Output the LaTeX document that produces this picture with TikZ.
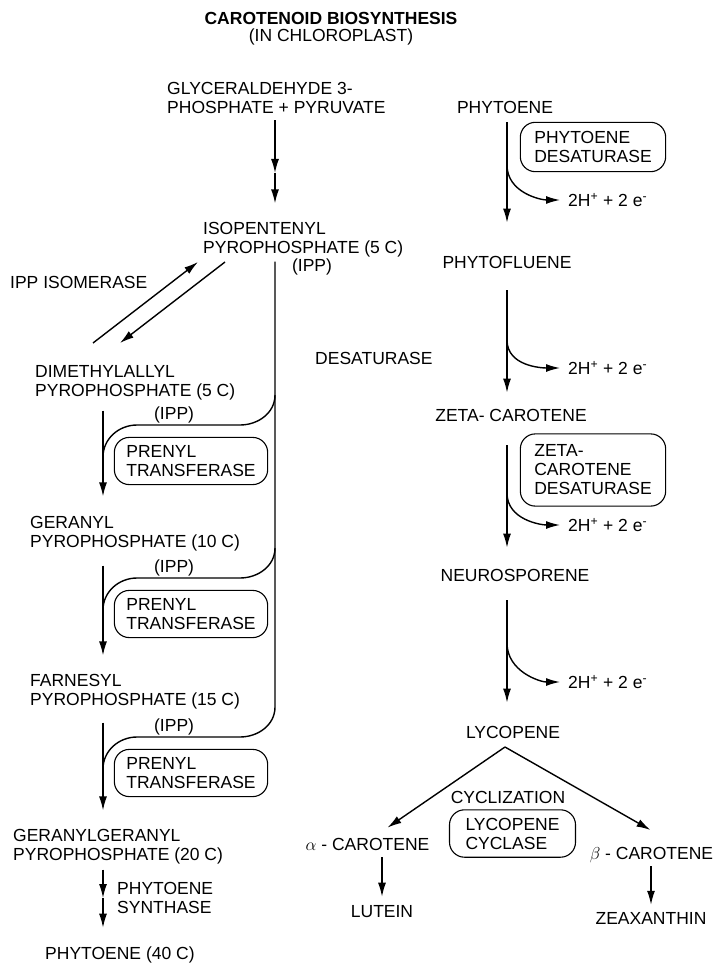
\documentclass[tikz,border=0pt]{standalone}
\usepackage{fontspec}
\setmainfont{Liberation Sans}
\usetikzlibrary{arrows.meta,positioning}
\newcommand\protons{2H\textsuperscript{+} + 2 e\textsuperscript{-}}

\begin{document}
\begin{tikzpicture}[x=1pt,y=1pt,
      lbl/.style={inner sep=0pt,align=left,font=\fontsize{17.5}{19}\selectfont},
      enz/.style={lbl,draw,line width=1.1pt,rounded corners=15pt,
                  inner xsep=12pt,inner ysep=8pt},
      flow/.style={line width=1.4pt},
      arr/.style={flow,-{Latex[length=14pt,width=8pt]}}]
    \useasboundingbox (0,0) rectangle (717,-965);

    % title
    \node[lbl] (title) at (331,-18) {\bfseries CAROTENOID BIOSYNTHESIS};
    \node[lbl,below=4pt of title] (chloro) {(IN CHLOROPLAST)};

    % prenyl chain
    \node[lbl,anchor=west] (g3p) at (167,-97.5) {GLYCERALDEHYDE 3-\\PHOSPHATE + PYRUVATE};
    \node[lbl,anchor=west] (ipp) at (203,-240) {ISOPENTENYL\\PYROPHOSPHATE (5 C)};
    \node[lbl] (ipptag) at (312,-267) {(IPP)};
    \node[lbl,anchor=west] (isom) at (10,-282) {IPP ISOMERASE};
    \node[lbl,anchor=west] (dmapp) at (35,-383) {DIMETHYLALLYL\\PYROPHOSPHATE (5 C)};
    \node[lbl,anchor=west] (gpp) at (30,-534) {GERANYL\\PYROPHOSPHATE (10 C)};
    \node[lbl,anchor=west] (fpp) at (30,-692) {FARNESYL\\PYROPHOSPHATE (15 C)};
    \node[lbl,anchor=west] (ggpp) at (13,-847) {GERANYLGERANYL\\PYROPHOSPHATE (20 C)};
    \node[lbl,anchor=west] (psyn) at (117,-898) {PHYTOENE\\SYNTHASE};
    \node[lbl,anchor=west] (phy40) at (45,-955) {PHYTOENE (40 C)};
    \node[enz] (pt1) at (191,-461) {PRENYL\\TRANSFERASE};
    \node[enz] (pt2) at (191,-614) {PRENYL\\TRANSFERASE};
    \node[enz] (pt3) at (191,-773) {PRENYL\\TRANSFERASE};

    % desaturation chain
    \node[lbl] (phyt) at (505,-107) {PHYTOENE};
    \node[enz,inner xsep=14pt,inner ysep=9pt] (pds) at (593,-147) {PHYTOENE\\DESATURASE};
    \node[lbl] (pfl) at (507,-262) {PHYTOFLUENE};
    \node[lbl,anchor=west] (desat) at (315,-358) {DESATURASE};
    \node[lbl] (zcar) at (511,-415) {ZETA- CAROTENE};
    \node[enz,inner xsep=14pt,inner ysep=11pt] (zds) at (593,-470) {ZETA-\\CAROTENE\\DESATURASE};
    \node[lbl] (neur) at (515,-575) {NEUROSPORENE};
    \node[lbl] (lyco) at (513,-732) {LYCOPENE};
    \node[lbl] (cycl) at (508,-797) {CYCLIZATION};
    \node[enz,inner xsep=16pt] (lcy) at (512.5,-833.5) {LYCOPENE\\CYCLASE};
    \node[lbl] (acar) at (367.5,-844) {$\alpha$ - CAROTENE};
    \node[lbl] (bcar) at (651.5,-855) {$\beta$ - CAROTENE};
    \node[lbl] (lut) at (382,-912) {LUTEIN};
    \node[lbl] (zea) at (651,-918) {ZEAXANTHIN};
    \node[lbl,anchor=west] (h1) at (568,-200) {\protons};
    \node[lbl,anchor=west] (h2) at (568,-368) {\protons};
    \node[lbl,anchor=west] (h3) at (568,-525) {\protons};
    \node[lbl,anchor=west] (h4) at (568,-682) {\protons};

    \coordinate (tx) at (275,0);
    \coordinate (lx) at (103,0);
    \coordinate (vx) at (507,0);
    \coordinate (gmid) at (275,-173);
    \coordinate (pmid) at (103,-898);
    \coordinate (isoA) at (93,-343);
    \coordinate (isoB) at (198,-262);
    \coordinate (isoC) at (225,-262);
    \coordinate (isoD) at (120,-343);
    \coordinate (j1) at (275,-395);
    \coordinate (j2) at (275,-548);
    \coordinate (j3) at (275,-707);
    \coordinate (m1) at (103,-457);
    \coordinate (m2) at (103,-610);
    \coordinate (m3) at (103,-769);
    \coordinate (b1) at (507,-165);
    \coordinate (b2) at (507,-340);
    \coordinate (b3) at (507,-493);
    \coordinate (b4) at (507,-643);
    \coordinate (apex) at (505,-747);

    % left side
    \draw[arr,shorten <=7pt] (g3p.south -| tx) -- (gmid);
    \draw[arr,shorten >=19pt] (gmid) -- (ipp.north -| tx);
    \draw[arr] (isoA) -- (isoB);
    \draw[arr] (isoC) -- (isoD);
    \draw[flow,shorten <=4pt] (ipp.south -| tx) -- (j3) to[out=-90,in=0] ++(-35,-30)
      -- node[lbl,pos=0.64,above=1pt] (ipp3) {(IPP)} ++(-103,0) to[out=180,in=90] (m3);
    \draw[flow] (j1) to[out=-90,in=0] ++(-35,-30)
      -- node[lbl,pos=0.64,above=1pt] (ipp1) {(IPP)} ++(-103,0) to[out=180,in=90] (m1);
    \draw[flow] (j2) to[out=-90,in=0] ++(-35,-30)
      -- node[lbl,pos=0.64,above=1pt] (ipp2) {(IPP)} ++(-103,0) to[out=180,in=90] (m2);
    \draw[arr,shorten <=10pt,shorten >=20pt] (dmapp.south -| lx) -- (gpp.north -| lx);
    \draw[arr,shorten <=14pt,shorten >=19pt] (gpp.south -| lx) -- (fpp.north -| lx);
    \draw[arr,shorten <=13pt,shorten >=19pt] (fpp.south -| lx) -- (ggpp.north -| lx);
    \draw[arr,shorten <=5pt] (ggpp.south -| lx) -- (pmid);
    \draw[arr,shorten >=19pt] (pmid) -- (phy40.north -| lx);

    % right side
    \draw[arr,shorten <=9pt,shorten >=33pt] (phyt.south -| vx) -- (pfl.north -| vx);
    \draw[arr,shorten <=22pt,shorten >=16pt] (pfl.south -| vx) -- (zcar.north -| vx);
    \draw[arr,shorten <=24pt,shorten >=21pt] (zcar.south -| vx) -- (neur.north -| vx);
    \draw[arr,shorten <=19pt,shorten >=23pt] (neur.south -| vx) -- (lyco.north -| vx);
    \draw[arr,shorten >=8pt] (b1) to[out=-90,in=180] (h1.west);
    \draw[arr,shorten >=8pt] (b2) to[out=-90,in=180] (h2.west);
    \draw[arr,shorten >=8pt] (b3) to[out=-90,in=180] (h3.west);
    \draw[arr,shorten >=8pt] (b4) to[out=-90,in=180] (h4.west);

    % cyclization
    \draw[arr] (apex) -- ([xshift=20pt,yshift=10pt]acar.north);
    \draw[arr] (apex) -- ([xshift=-1pt,yshift=17pt]bcar.north);
    \draw[arr,shorten <=7pt,shorten >=9pt] (acar.south -| lut) -- (lut.north);
    \draw[arr,shorten <=3pt,shorten >=7pt] (bcar.south -| zea) -- (zea.north);
  \end{tikzpicture}
\end{document}
